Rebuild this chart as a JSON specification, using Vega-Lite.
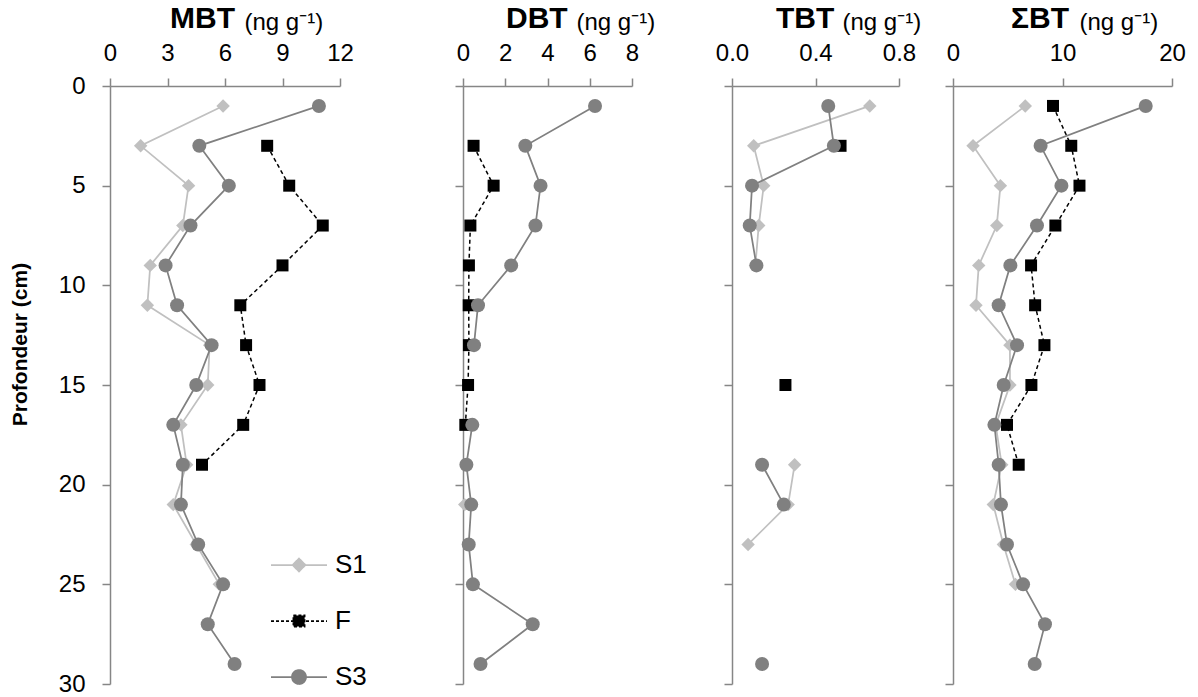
{
  "$schema": "https://vega.github.io/schema/vega-lite/v6.json",
  "background": "white",
  "padding": {"left": 9, "top": 4, "right": 0, "bottom": 0},
  "autosize": {"type": "pad"},
  "spacing": 0,
  "resolve": {"legend": {"color": "independent", "shape": "independent", "stroke": "independent", "strokeDash": "independent"}},
  "datasets": {
    "bt": [
      {"depth": 1, "series": "S1", "MBT": 5.9, "DBT": null, "TBT": 0.66, "SBT": 6.6},
      {"depth": 3, "series": "S1", "MBT": 1.6, "DBT": null, "TBT": 0.104, "SBT": 1.83},
      {"depth": 5, "series": "S1", "MBT": 4.1, "DBT": null, "TBT": 0.152, "SBT": 4.33},
      {"depth": 7, "series": "S1", "MBT": 3.8, "DBT": null, "TBT": 0.128, "SBT": 4.0},
      {"depth": 9, "series": "S1", "MBT": 2.1, "DBT": null, "TBT": 0.112, "SBT": 2.35},
      {"depth": 11, "series": "S1", "MBT": 1.95, "DBT": null, "TBT": null, "SBT": 2.1},
      {"depth": 13, "series": "S1", "MBT": 5.2, "DBT": null, "TBT": null, "SBT": 5.2},
      {"depth": 15, "series": "S1", "MBT": 5.1, "DBT": null, "TBT": null, "SBT": 5.2},
      {"depth": 17, "series": "S1", "MBT": 3.7, "DBT": null, "TBT": null, "SBT": 3.9},
      {"depth": 19, "series": "S1", "MBT": 4.0, "DBT": null, "TBT": 0.3, "SBT": 4.45},
      {"depth": 21, "series": "S1", "MBT": 3.3, "DBT": 0.08, "TBT": 0.269, "SBT": 3.68},
      {"depth": 23, "series": "S1", "MBT": 4.5, "DBT": null, "TBT": 0.077, "SBT": 4.6},
      {"depth": 25, "series": "S1", "MBT": 5.7, "DBT": null, "TBT": null, "SBT": 5.7},
      {"depth": 1, "series": "F", "MBT": null, "DBT": null, "TBT": null, "SBT": 9.13},
      {"depth": 3, "series": "F", "MBT": 8.2, "DBT": 0.5, "TBT": 0.52, "SBT": 10.8},
      {"depth": 5, "series": "F", "MBT": 9.35, "DBT": 1.45, "TBT": null, "SBT": 11.55},
      {"depth": 7, "series": "F", "MBT": 11.1, "DBT": 0.35, "TBT": null, "SBT": 9.35},
      {"depth": 9, "series": "F", "MBT": 9.0, "DBT": 0.28, "TBT": null, "SBT": 7.13},
      {"depth": 11, "series": "F", "MBT": 6.8, "DBT": 0.27, "TBT": null, "SBT": 7.5},
      {"depth": 13, "series": "F", "MBT": 7.1, "DBT": 0.28, "TBT": null, "SBT": 8.35},
      {"depth": 15, "series": "F", "MBT": 7.8, "DBT": 0.24, "TBT": 0.256, "SBT": 7.16},
      {"depth": 17, "series": "F", "MBT": 6.95, "DBT": 0.11, "TBT": null, "SBT": 4.93},
      {"depth": 19, "series": "F", "MBT": 4.8, "DBT": null, "TBT": null, "SBT": 6.0},
      {"depth": 1, "series": "S3", "MBT": 10.9, "DBT": 6.25, "TBT": 0.461, "SBT": 17.6},
      {"depth": 3, "series": "S3", "MBT": 4.66, "DBT": 2.95, "TBT": 0.488, "SBT": 8.0},
      {"depth": 5, "series": "S3", "MBT": 6.2, "DBT": 3.67, "TBT": 0.096, "SBT": 9.9},
      {"depth": 7, "series": "S3", "MBT": 4.2, "DBT": 3.43, "TBT": 0.085, "SBT": 7.67},
      {"depth": 9, "series": "S3", "MBT": 2.9, "DBT": 2.28, "TBT": 0.117, "SBT": 5.24},
      {"depth": 11, "series": "S3", "MBT": 3.5, "DBT": 0.71, "TBT": null, "SBT": 4.17},
      {"depth": 13, "series": "S3", "MBT": 5.3, "DBT": 0.52, "TBT": null, "SBT": 5.85},
      {"depth": 15, "series": "S3", "MBT": 4.5, "DBT": null, "TBT": null, "SBT": 4.63},
      {"depth": 17, "series": "S3", "MBT": 3.3, "DBT": 0.44, "TBT": null, "SBT": 3.78},
      {"depth": 19, "series": "S3", "MBT": 3.8, "DBT": 0.16, "TBT": 0.144, "SBT": 4.17},
      {"depth": 21, "series": "S3", "MBT": 3.7, "DBT": 0.39, "TBT": 0.248, "SBT": 4.38},
      {"depth": 23, "series": "S3", "MBT": 4.6, "DBT": 0.27, "TBT": null, "SBT": 4.93},
      {"depth": 25, "series": "S3", "MBT": 5.9, "DBT": 0.47, "TBT": null, "SBT": 6.4},
      {"depth": 27, "series": "S3", "MBT": 5.1, "DBT": 3.3, "TBT": null, "SBT": 8.4},
      {"depth": 29, "series": "S3", "MBT": 6.5, "DBT": 0.83, "TBT": 0.144, "SBT": 7.46}
    ]
  },
  "data": {"name": "bt"},
  "config": {
    "font": "Liberation Sans",
    "view": {"stroke": null},
    "axis": {
      "grid": false,
      "domainColor": "#868686",
      "tickColor": "#868686",
      "domainWidth": 1.5,
      "tickWidth": 1.5,
      "tickSize": 8,
      "labelColor": "#000000",
      "labelFont": "Liberation Sans",
      "labelFontSize": 24,
      "labelFlush": false,
      "labelOverlap": false,
      "titleColor": "#000000",
      "titleFont": "Liberation Sans"
    },
    "axisX": {"labelPadding": 13},
    "title": {"color": "#000000", "font": "Liberation Sans"},
    "legend": {"title": null, "orient": "none", "legendX": 160, "legendY": 450, "symbolSize": 3136, "labelFontSize": 26, "labelFont": "Liberation Sans", "labelColor": "#000000", "labelOffset": 7, "rowPadding": 14, "padding": 0, "symbolStrokeWidth": 1.75}
  },
  "hconcat": [
    {
      "width": 230,
      "height": 598,
      "title": {"text": "MBT", "anchor": "start", "frame": "group", "dx": 60, "fontSize": 30, "fontWeight": "bold", "baseline": "alphabetic", "offset": -48},
      "encoding": {
        "y": {"field": "depth", "type": "quantitative", "scale": {"domain": [0, 30], "reverse": true, "nice": false, "zero": false},
          "axis": {"values": [0, 5, 10, 15, 20, 25, 30], "title": "Profondeur (cm)", "titleX": -84, "titleY": 258, "titleAlign": "center", "titleBaseline": "alphabetic", "titleAngle": -90, "titleFontSize": 21, "titleFontWeight": "bold", "labelPadding": 17}},
        "x": {"field": "MBT", "type": "quantitative", "scale": {"domain": [0, 12], "nice": false},
          "axis": {"orient": "top", "values": [0, 3, 6, 9, 12], "title": "(ng g⁻¹)", "titleX": 134, "titleY": -57, "titleAlign": "left", "titleBaseline": "alphabetic", "titleFontSize": 24, "titleFontWeight": "normal"}}
      },
      "layer": [
        {
          "transform": [{"filter": "false"}],
          "mark": {"type": "point", "filled": true, "opacity": 1},
          "encoding": {
            "color": {"field": "series", "type": "nominal", "scale": {"domain": ["S1", "F", "S3"], "range": ["#c0c0c0", "#000000", "#808080"]}, "legend": {"title": null}},
            "stroke": {"field": "series", "type": "nominal", "scale": {"domain": ["S1", "F", "S3"], "range": ["#c0c0c0", "#000000", "#808080"]}, "legend": {"title": null}},
            "shape": {"field": "series", "type": "nominal", "scale": {"domain": ["S1", "F", "S3"], "range": ["M-1,0H1M0,-0.23L0.23,0L0,0.23L-0.23,0Z", "M-1,0H1M-0.2,-0.2H0.2V0.2H-0.2Z", "M-1,0H1M0.25,0A0.25,0.25 0 1,1 -0.25,0A0.25,0.25 0 1,1 0.25,0Z"]}, "legend": {"title": null}},
            "strokeDash": {"field": "series", "type": "nominal", "scale": {"domain": ["S1", "F", "S3"], "range": [[1, 0], [3, 2], [1, 0]]}, "legend": {"title": null}}
          }
        },
        {"transform": [{"filter": "datum.series === 'S1'"}], "mark": {"type": "line", "color": "#c0c0c0", "strokeWidth": 1.75, "invalid": "break-paths-filter-domains"}, "encoding": {"order": {"field": "depth", "type": "quantitative"}}},
        {"transform": [{"filter": "datum.series === 'S1'"}], "mark": {"type": "point", "shape": "diamond", "filled": true, "color": "#c0c0c0", "size": 180, "opacity": 1, "invalid": "filter"}},
        {"transform": [{"filter": "datum.series === 'F'"}], "mark": {"type": "line", "color": "#000000", "strokeWidth": 1.5, "strokeDash": [4, 3], "invalid": "break-paths-filter-domains"}, "encoding": {"order": {"field": "depth", "type": "quantitative"}}},
        {"transform": [{"filter": "datum.series === 'F'"}], "mark": {"type": "point", "shape": "square", "filled": true, "color": "#000000", "size": 144, "opacity": 1, "invalid": "filter"}},
        {"transform": [{"filter": "datum.series === 'S3'"}], "mark": {"type": "line", "color": "#808080", "strokeWidth": 1.75, "invalid": "break-paths-filter-domains"}, "encoding": {"order": {"field": "depth", "type": "quantitative"}}},
        {"transform": [{"filter": "datum.series === 'S3'"}], "mark": {"type": "point", "shape": "circle", "filled": true, "color": "#808080", "size": 196, "opacity": 1, "invalid": "filter"}}
      ]
    },
    {
      "width": 169,
      "height": 598,
      "title": {"text": "DBT", "anchor": "start", "frame": "group", "dx": 43, "fontSize": 30, "fontWeight": "bold", "baseline": "alphabetic", "offset": -48},
      "encoding": {
        "y": {"field": "depth", "type": "quantitative", "scale": {"domain": [0, 30], "reverse": true, "nice": false, "zero": false},
          "axis": {"values": [0, 5, 10, 15, 20, 25, 30], "labels": false, "title": null, "minExtent": 96}},
        "x": {"field": "DBT", "type": "quantitative", "scale": {"domain": [0, 8], "nice": false},
          "axis": {"orient": "top", "values": [0, 2, 4, 6, 8], "title": "(ng g⁻¹)", "titleX": 113, "titleY": -57, "titleAlign": "left", "titleBaseline": "alphabetic", "titleFontSize": 24, "titleFontWeight": "normal"}}
      },
      "layer": [
        {"transform": [{"filter": "datum.series === 'S1'"}], "mark": {"type": "line", "color": "#c0c0c0", "strokeWidth": 1.75, "invalid": "break-paths-filter-domains"}, "encoding": {"order": {"field": "depth", "type": "quantitative"}}},
        {"transform": [{"filter": "datum.series === 'S1'"}], "mark": {"type": "point", "shape": "diamond", "filled": true, "color": "#c0c0c0", "size": 180, "opacity": 1, "invalid": "filter"}},
        {"transform": [{"filter": "datum.series === 'F'"}], "mark": {"type": "line", "color": "#000000", "strokeWidth": 1.5, "strokeDash": [4, 3], "invalid": "break-paths-filter-domains"}, "encoding": {"order": {"field": "depth", "type": "quantitative"}}},
        {"transform": [{"filter": "datum.series === 'F'"}], "mark": {"type": "point", "shape": "square", "filled": true, "color": "#000000", "size": 144, "opacity": 1, "invalid": "filter"}},
        {"transform": [{"filter": "datum.series === 'S3'"}], "mark": {"type": "line", "color": "#808080", "strokeWidth": 1.75, "invalid": "break-paths-filter-domains"}, "encoding": {"order": {"field": "depth", "type": "quantitative"}}},
        {"transform": [{"filter": "datum.series === 'S3'"}], "mark": {"type": "point", "shape": "circle", "filled": true, "color": "#808080", "size": 196, "opacity": 1, "invalid": "filter"}}
      ]
    },
    {
      "width": 167,
      "height": 598,
      "title": {"text": "TBT", "anchor": "start", "frame": "group", "dx": 44, "fontSize": 30, "fontWeight": "bold", "baseline": "alphabetic", "offset": -48},
      "encoding": {
        "y": {"field": "depth", "type": "quantitative", "scale": {"domain": [0, 30], "reverse": true, "nice": false, "zero": false},
          "axis": {"values": [0, 5, 10, 15, 20, 25, 30], "labels": false, "title": null, "minExtent": 77}},
        "x": {"field": "TBT", "type": "quantitative", "scale": {"domain": [0, 0.8], "nice": false},
          "axis": {"orient": "top", "values": [0, 0.4, 0.8], "format": ".1f", "title": "(ng g⁻¹)", "titleX": 110, "titleY": -57, "titleAlign": "left", "titleBaseline": "alphabetic", "titleFontSize": 24, "titleFontWeight": "normal"}}
      },
      "layer": [
        {"transform": [{"filter": "datum.series === 'S1'"}], "mark": {"type": "line", "color": "#c0c0c0", "strokeWidth": 1.75, "invalid": "break-paths-filter-domains"}, "encoding": {"order": {"field": "depth", "type": "quantitative"}}},
        {"transform": [{"filter": "datum.series === 'S1'"}], "mark": {"type": "point", "shape": "diamond", "filled": true, "color": "#c0c0c0", "size": 180, "opacity": 1, "invalid": "filter"}},
        {"transform": [{"filter": "datum.series === 'F'"}], "mark": {"type": "line", "color": "#000000", "strokeWidth": 1.5, "strokeDash": [4, 3], "invalid": "break-paths-filter-domains"}, "encoding": {"order": {"field": "depth", "type": "quantitative"}}},
        {"transform": [{"filter": "datum.series === 'F'"}], "mark": {"type": "point", "shape": "square", "filled": true, "color": "#000000", "size": 144, "opacity": 1, "invalid": "filter"}},
        {"transform": [{"filter": "datum.series === 'S3'"}], "mark": {"type": "line", "color": "#808080", "strokeWidth": 1.75, "invalid": "break-paths-filter-domains"}, "encoding": {"order": {"field": "depth", "type": "quantitative"}}},
        {"transform": [{"filter": "datum.series === 'S3'"}], "mark": {"type": "point", "shape": "circle", "filled": true, "color": "#808080", "size": 196, "opacity": 1, "invalid": "filter"}}
      ]
    },
    {
      "width": 219,
      "height": 598,
      "title": {"text": "ΣBT", "anchor": "start", "frame": "group", "dx": 58, "fontSize": 30, "fontWeight": "bold", "baseline": "alphabetic", "offset": -48},
      "encoding": {
        "y": {"field": "depth", "type": "quantitative", "scale": {"domain": [0, 30], "reverse": true, "nice": false, "zero": false},
          "axis": {"values": [0, 5, 10, 15, 20, 25, 30], "labels": false, "title": null, "minExtent": 32}},
        "x": {"field": "SBT", "type": "quantitative", "scale": {"domain": [0, 20], "nice": false},
          "axis": {"orient": "top", "values": [0, 10, 20], "title": "(ng g⁻¹)", "titleX": 126, "titleY": -57, "titleAlign": "left", "titleBaseline": "alphabetic", "titleFontSize": 24, "titleFontWeight": "normal"}}
      },
      "layer": [
        {"transform": [{"filter": "datum.series === 'S1'"}], "mark": {"type": "line", "color": "#c0c0c0", "strokeWidth": 1.75, "invalid": "break-paths-filter-domains"}, "encoding": {"order": {"field": "depth", "type": "quantitative"}}},
        {"transform": [{"filter": "datum.series === 'S1'"}], "mark": {"type": "point", "shape": "diamond", "filled": true, "color": "#c0c0c0", "size": 180, "opacity": 1, "invalid": "filter"}},
        {"transform": [{"filter": "datum.series === 'F'"}], "mark": {"type": "line", "color": "#000000", "strokeWidth": 1.5, "strokeDash": [4, 3], "invalid": "break-paths-filter-domains"}, "encoding": {"order": {"field": "depth", "type": "quantitative"}}},
        {"transform": [{"filter": "datum.series === 'F'"}], "mark": {"type": "point", "shape": "square", "filled": true, "color": "#000000", "size": 144, "opacity": 1, "invalid": "filter"}},
        {"transform": [{"filter": "datum.series === 'S3'"}], "mark": {"type": "line", "color": "#808080", "strokeWidth": 1.75, "invalid": "break-paths-filter-domains"}, "encoding": {"order": {"field": "depth", "type": "quantitative"}}},
        {"transform": [{"filter": "datum.series === 'S3'"}], "mark": {"type": "point", "shape": "circle", "filled": true, "color": "#808080", "size": 196, "opacity": 1, "invalid": "filter"}}
      ]
    }
  ]
}
